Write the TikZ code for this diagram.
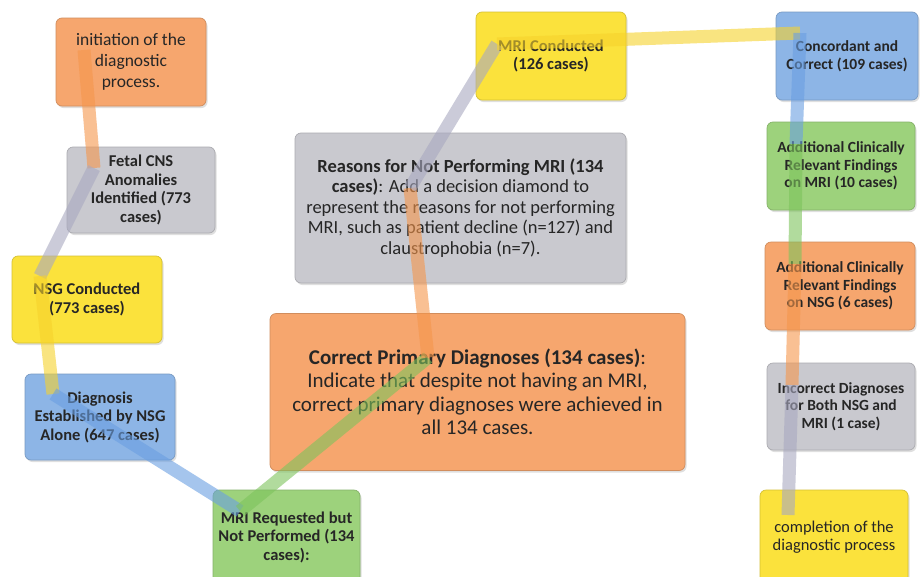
\documentclass[tikz,border=0pt]{standalone}
\usepackage{fontspec}
\setmainfont{Carlito}
\usetikzlibrary{shadows}
\definecolor{cOrange}{HTML}{F6A66E}
\definecolor{cGray}{HTML}{C9C9CF}
\definecolor{cYellow}{HTML}{FBE23C}
\definecolor{cBlue}{HTML}{8DB5E6}
\definecolor{cGreen}{HTML}{9DD27C}
\definecolor{bOrange}{HTML}{F5964C}
\definecolor{bGray}{HTML}{A9A9C0}
\definecolor{bYellow}{HTML}{F6D22C}
\definecolor{bBlue}{HTML}{6A9FE2}
\definecolor{bGreen}{HTML}{7DC35C}
\definecolor{txt}{HTML}{262626}
\tikzset{
	box/.style={draw=#1!85!black, fill=#1, rounded corners=6pt, line width=0.7pt, align=center, text=txt, inner sep=2pt,
		drop shadow={shadow xshift=1.5pt, shadow yshift=-2pt, opacity=.25}},
	leftfont/.style={font=\fontsize{16.5}{18.5}\selectfont\bfseries},
	rightfont/.style={font=\fontsize{15.5}{17.5}\selectfont\bfseries},
	band/.style={line width=13pt, draw=#1, opacity=.6},
}
\begin{document}
\begin{tikzpicture}[x=1pt, y=-1pt]
	\useasboundingbox [fill=white] (0,0) rectangle (921,576);
	\node [box=cOrange, font=\fontsize{17.5}{21}\selectfont, minimum width=150pt, minimum height=88pt] (init) at (131,62) {initiation of the\\diagnostic\\process.};
	\node [box=cGray, leftfont, minimum width=148pt, minimum height=86pt] (fetal) at (141,190) {Fetal CNS\\Anomalies\\Identified (773\\cases)};
	\node [box=cYellow, leftfont, minimum width=150pt, minimum height=87pt] (nsg) at (87,299.5) {NSG Conducted\\(773 cases)};
	\node [box=cBlue, leftfont, minimum width=150pt, minimum height=86pt] (diag) at (100,417) {Diagnosis\\Established by NSG\\Alone (647 cases)};
	\node [box=cGreen, leftfont, minimum width=147pt, minimum height=94pt] (req) at (286.5,537) {MRI Requested but\\Not Performed (134\\cases):};
	\node [box=cOrange, font=\fontsize{21}{23.5}\selectfont, minimum width=415pt, minimum height=157pt] (correct) at (477.5,392) {\textbf{Correct Primary Diagnoses (134 cases)}:\\Indicate that despite not having an MRI,\\correct primary diagnoses were achieved in\\all 134 cases.};
	\node [box=cGray, font=\fontsize{18.5}{20.5}\selectfont, minimum width=331pt, minimum height=150pt] (reasons) at (460.5,208) {\textbf{Reasons for Not Performing MRI (134}\\\textbf{cases)}: Add a decision diamond to\\represent the reasons for not performing\\MRI, such as patient decline (n=127) and\\claustrophobia (n=7).};
	\node [box=cYellow, leftfont, minimum width=150pt, minimum height=88pt] (mri) at (551,56) {MRI Conducted\\(126 cases)};
	\node [box=cBlue, rightfont, minimum width=142pt, minimum height=88pt] (conc) at (847,56) {Concordant and\\Correct (109 cases)};
	\node [box=cGreen, rightfont, minimum width=148pt, minimum height=88pt] (addMRI) at (841,166) {Additional Clinically\\Relevant Findings\\on MRI (10 cases)};
	\node [box=cOrange, rightfont, minimum width=150pt, minimum height=88pt] (addNSG) at (840,286) {Additional Clinically\\Relevant Findings\\on NSG (6 cases)};
	\node [box=cGray, rightfont, minimum width=148pt, minimum height=87pt] (incorrect) at (841,406.5) {Incorrect Diagnoses\\for Both NSG and\\MRI (1 case)};
	\node [box=cYellow, font=\fontsize{16.5}{18}\selectfont, minimum width=148pt, minimum height=94pt] (completion) at (834,537) {completion of the\\diagnostic process};
	\path (init.center) ++(-47,-12) coordinate (init-p);
	\path (fetal.center) ++(-47,-22) coordinate (fetal-p);
	\path (nsg.center) ++(-47,-23.5) coordinate (nsg-p);
	\path (diag.center) ++(-47,-23) coordinate (diag-p);
	\path (req.center) ++(-46.5,-26) coordinate (req-p);
	\path (correct.center) ++(-49.5,-34.5) coordinate (correct-p);
	\path (reasons.center) ++(-50.5,-20) coordinate (reasons-p);
	\path (mri.center) ++(-54,-12) coordinate (mri-p);
	\path (conc.center) ++(-47,-23) coordinate (conc-p);
	\path (addMRI.center) ++(-45,-22) coordinate (addMRI-p);
	\path (addNSG.center) ++(-45,-22) coordinate (addNSG-p);
	\path (incorrect.center) ++(-49,-21.5) coordinate (incorrect-p);
	\path (completion.center) ++(-46,-22) coordinate (completion-p);
	\foreach \a/\b/\c in {init/fetal/bOrange, fetal/nsg/bGray, nsg/diag/bYellow, diag/req/bBlue, req/correct/bGreen, correct/reasons/bOrange, reasons/mri/bGray, mri/conc/bYellow, conc/addMRI/bBlue, addMRI/addNSG/bGreen, addNSG/incorrect/bOrange, incorrect/completion/bGray}
		\draw [band=\c] (\a-p) -- (\b-p);
\end{tikzpicture}
\end{document}
